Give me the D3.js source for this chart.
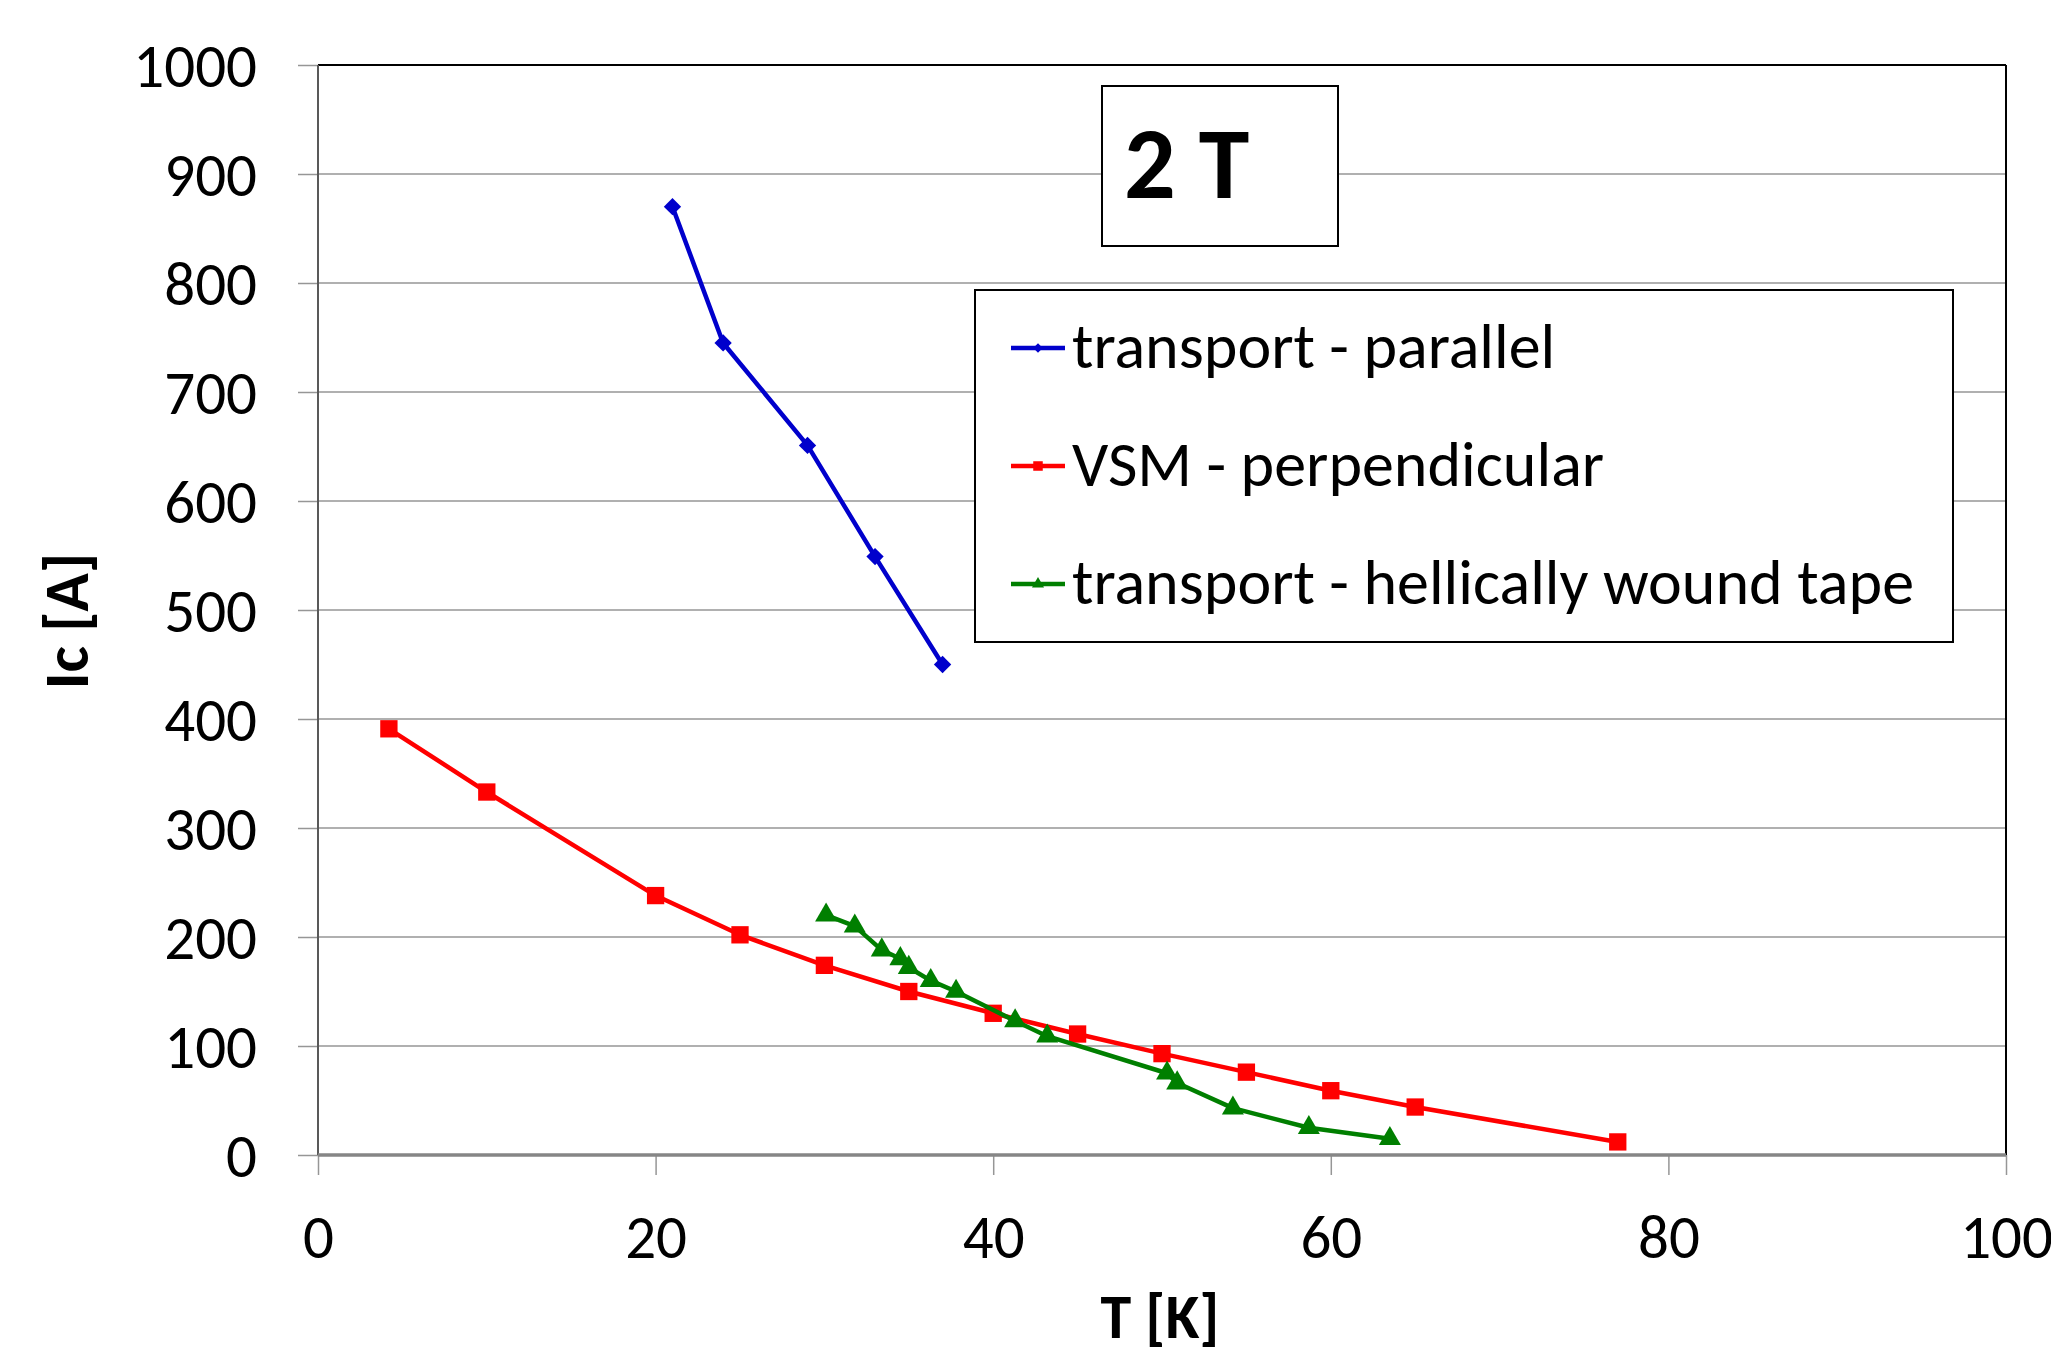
<!DOCTYPE html>
<html>
<head>
<meta charset="utf-8">
<script src="https://cdn.jsdelivr.net/npm/d3@7"></script>
<style>
  html, body { margin: 0; padding: 0; background: #fff; }
  svg { display: block; font-family: "Carlito", "Lato", "Open Sans", sans-serif; }
  svg text { font-family: "Carlito", "Lato", "Open Sans", sans-serif; }
</style>
</head>
<body>
<svg id="chart" width="2051" height="1357"></svg>
<script>
// ---- data ----
const parallelT  = [21, 24, 29, 33, 37];
const parallelIc = [870, 745, 651, 549, 450];

const vsmT  = [4.2, 10, 20, 25, 30, 35, 40, 45, 50, 55, 60, 65, 77];
const vsmIc = [391, 333, 238, 202, 174, 150, 130, 111, 93, 76, 59, 44, 12];

const helixT  = [30.1, 31.8, 33.4, 34.5, 35.0, 36.3, 37.8, 41.3, 43.2, 50.3, 50.9, 54.2, 58.7, 63.5];
const helixIc = [220, 210, 188, 180, 172, 160, 150, 123, 109, 75, 66, 43, 25, 15];

const seriesNames = ["transport - parallel", "VSM - perpendicular", "transport - hellically wound tape"];
const xTicks = [0, 20, 40, 60, 80, 100];
const yTicks = [0, 100, 200, 300, 400, 500, 600, 700, 800, 900, 1000];
const fieldLabel = "2 T";
const xTitle = "T [K]";
const yTitle = "Ic [A]";

// ---- layout ----
const FONT = '"Carlito", "Lato", "Open Sans", sans-serif';
const svg = d3.select("#chart");
const L = 318, R = 2006, T = 65, B = 1155;
const x = d3.scaleLinear().domain([0, 100]).range([L, R]);
const y = d3.scaleLinear().domain([0, 1000]).range([B, T]);

// gridlines
svg.append("g").selectAll("line").data(yTicks.filter(d => d > 0)).join("line")
  .attr("x1", L).attr("x2", R)
  .attr("y1", d => y(d)).attr("y2", d => y(d))
  .attr("stroke", "#969696").attr("stroke-width", 1.5);

// y axis
const yAxis = d3.axisLeft(y).tickValues(yTicks).tickSize(20).tickPadding(41).tickFormat(d3.format("d"));
const gy = svg.append("g").attr("transform", `translate(${L},0)`).call(yAxis)
  .attr("font-family", FONT).attr("font-size", 61);
gy.select(".domain").remove();
gy.selectAll(".tick line").attr("stroke", "#969696").attr("stroke-width", 1.5);
gy.selectAll(".tick text").attr("fill", "#000").attr("dy", "0.36em");

// x axis
const xAxis = d3.axisBottom(x).tickValues(xTicks).tickSize(20).tickPadding(40).tickFormat(d3.format("d"));
const gx = svg.append("g").attr("transform", `translate(0,${B})`).call(xAxis)
  .attr("font-family", FONT).attr("font-size", 61);
gx.select(".domain").remove();
gx.selectAll(".tick line").attr("stroke", "#969696").attr("stroke-width", 1.5);
gx.selectAll(".tick text").attr("fill", "#000").attr("dy", "0.71em");

// plot frame
svg.append("line").attr("x1", L).attr("x2", R).attr("y1", T).attr("y2", T).attr("stroke", "#000").attr("stroke-width", 2);
svg.append("line").attr("x1", R).attr("x2", R).attr("y1", T).attr("y2", B).attr("stroke", "#000").attr("stroke-width", 2);
svg.append("line").attr("x1", L).attr("x2", L).attr("y1", T).attr("y2", B).attr("stroke", "#595959").attr("stroke-width", 2);
svg.append("line").attr("x1", L).attr("x2", R).attr("y1", B).attr("y2", B).attr("stroke", "#868686").attr("stroke-width", 3.5);

// series
const series = [
  { name: seriesNames[0], t: parallelT, v: parallelIc, color: "#0000CC", marker: "diamond" },
  { name: seriesNames[1], t: vsmT, v: vsmIc, color: "#FF0000", marker: "square" },
  { name: seriesNames[2], t: helixT, v: helixIc, color: "#007F00", marker: "triangle" }
];

function markerPath(type, scale) {
  if (type === "diamond") return d3.symbol(d3.symbolSquare, 150 * scale * scale)();
  if (type === "square") return d3.symbol(d3.symbolSquare, 300 * scale * scale)();
  return d3.symbol(d3.symbolTriangle, 210 * scale * scale)();
}

const line = d3.line().x(d => x(d[0])).y(d => y(d[1]));
series.forEach(s => {
  const pts = s.t.map((t, i) => [t, s.v[i]]);
  svg.append("path").datum(pts).attr("d", line)
    .attr("fill", "none").attr("stroke", s.color).attr("stroke-width", 4.5).attr("stroke-linejoin", "round");
  svg.append("g").selectAll("path").data(pts).join("path")
    .attr("d", markerPath(s.marker, 1))
    .attr("transform", d => `translate(${x(d[0])},${y(d[1])})` + (s.marker === "diamond" ? " rotate(45)" : ""))
    .attr("fill", s.color);
});

// field label box
svg.append("rect").attr("x", 1102).attr("y", 86).attr("width", 236).attr("height", 160)
  .attr("fill", "#fff").attr("stroke", "#000").attr("stroke-width", 2);
svg.append("text").attr("x", 1124).attr("y", 198).attr("font-size", 102).attr("font-weight", "bold")
  .attr("fill", "#000").text(fieldLabel);

// legend
svg.append("rect").attr("x", 975).attr("y", 290).attr("width", 978).attr("height", 352)
  .attr("fill", "#fff").attr("stroke", "#000").attr("stroke-width", 2);
const legRows = [348, 466, 584];
series.forEach((s, i) => {
  const g = svg.append("g").attr("transform", `translate(0,${legRows[i]})`);
  g.append("line").attr("x1", 1011).attr("x2", 1065).attr("y1", 0).attr("y2", 0)
    .attr("stroke", s.color).attr("stroke-width", 4.5);
  g.append("path").attr("d", markerPath(s.marker, 0.55))
    .attr("transform", "translate(1038,0)" + (s.marker === "diamond" ? " rotate(45)" : ""))
    .attr("fill", s.color);
  g.append("text").attr("x", 1072).attr("y", 20).attr("font-size", 64).attr("fill", "#000").text(s.name);
});

// axis titles
svg.append("text").attr("x", 1160).attr("y", 1338).attr("text-anchor", "middle")
  .attr("font-size", 62).attr("font-weight", "bold").attr("fill", "#000").text(xTitle);
svg.append("text").attr("transform", "translate(88,621) rotate(-90)").attr("text-anchor", "middle")
  .attr("font-size", 63).attr("font-weight", "bold").attr("fill", "#000").text(yTitle);
</script>
</body>
</html>
